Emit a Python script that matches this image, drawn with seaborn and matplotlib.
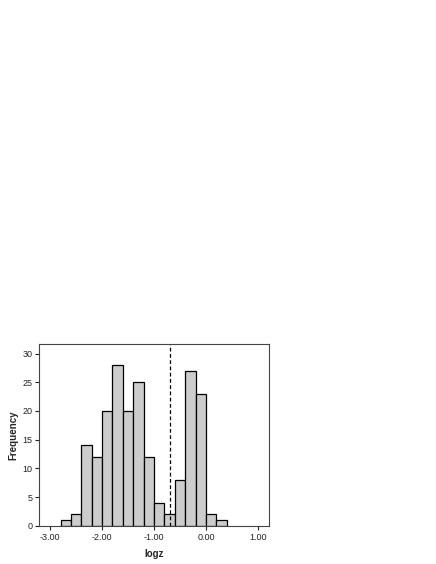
import numpy as np
import pandas as pd
import matplotlib
matplotlib.use("Agg")
import matplotlib.pyplot as plt
import seaborn as sns

# --- Data ---
bin_lefts = [-2.8, -2.6, -2.4, -2.2, -2.0, -1.8, -1.6, -1.4,
             -1.2, -1.0, -0.8, -0.6, -0.4, -0.2, 0.0, 0.2]
counts = [1, 2, 14, 12, 20, 28, 20, 25, 12, 4, 2, 8, 27, 23, 2, 1]
bin_width = 0.2
cutoff = -0.7
x_ticks = [-3.0, -2.0, -1.0, 0.0, 1.0]
y_ticks = [0, 5, 10, 15, 20, 25, 30]

sns.set_style("ticks")
plt.rcParams['font.family'] = ['Liberation Sans', 'DejaVu Sans']

df = pd.DataFrame({
    "logz": [round(l + bin_width / 2, 2) for l in bin_lefts],
    "n": counts,
})
edges = [round(bin_lefts[0] + i * bin_width, 2) for i in range(len(bin_lefts) + 1)]

fig = plt.figure(figsize=(4.36, 5.64), dpi=100)
ax = fig.add_axes([0.0901, 0.0679, 0.5262, 0.3216])

sns.histplot(data=df, x="logz", weights="n", bins=edges, ax=ax,
             color="#cccccc", edgecolor="black", linewidth=0.9, alpha=1)

ax.axvline(cutoff, color="black", linestyle=(0, (3, 2)), linewidth=0.9)

ax.set_xlim(-3.21, 1.21)
ax.set_ylim(0, 31.6)
ax.set_xticks(x_ticks)
ax.set_xticklabels([f"{t:.2f}" for t in x_ticks])
ax.set_yticks(y_ticks)
ax.tick_params(labelsize=6.5, length=3, width=0.8, pad=2, colors="#222222")
ax.set_xlabel("logz", fontsize=7, fontweight="bold", labelpad=5)
ax.set_ylabel("Frequency", fontsize=7, fontweight="bold", labelpad=3)
for s in ax.spines.values():
    s.set_visible(True)
    s.set_linewidth(0.8)
    s.set_color("#444444")

fig.savefig("out.png", dpi=100)
